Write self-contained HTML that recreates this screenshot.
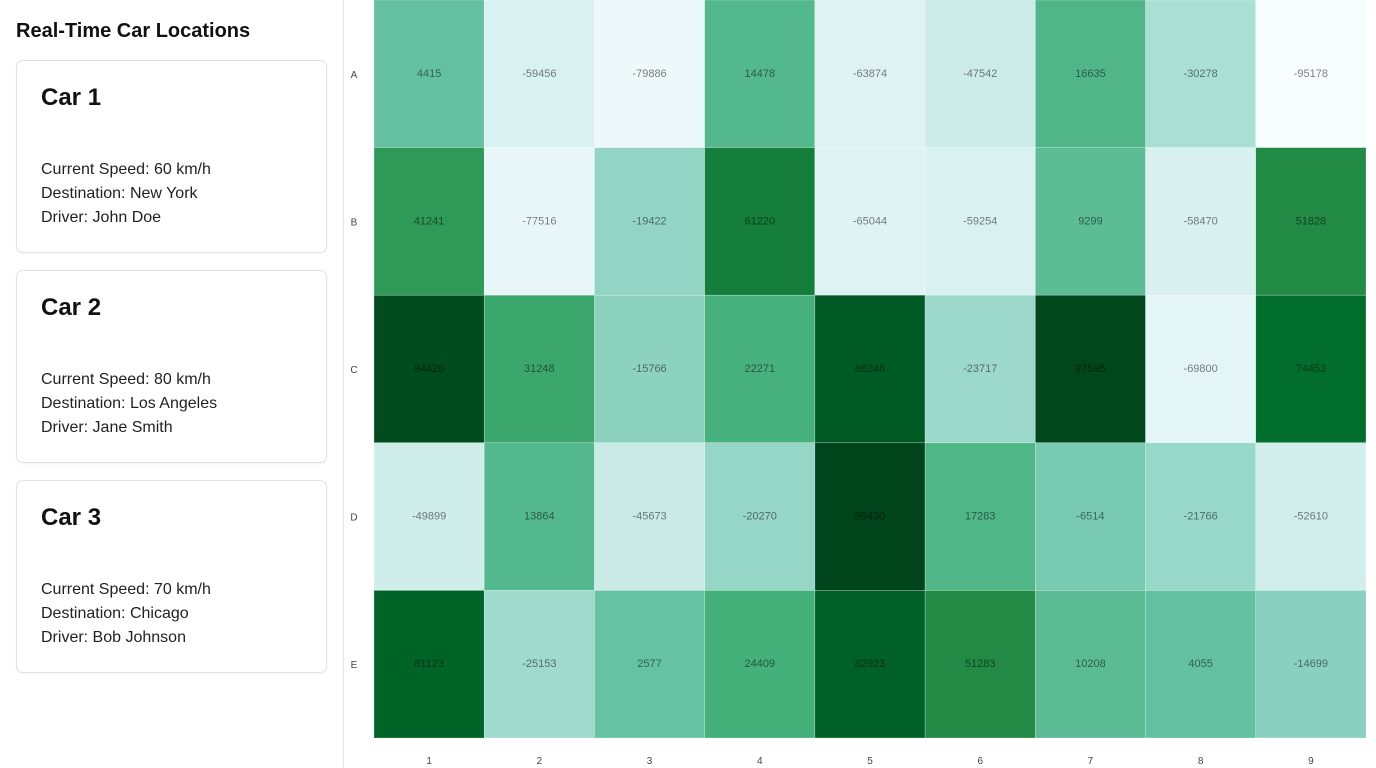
<!DOCTYPE html>
<html><head><meta charset="utf-8">
<style>
body{margin:0;width:1376px;height:768px;overflow:hidden;background:#fff;font-family:"Liberation Sans",sans-serif;color:#111}
#side{position:absolute;left:0;top:0;width:343px;height:768px;border-right:1px solid #e5e5e5}
h1{position:absolute;left:16px;top:20px;margin:0;font-size:20px;font-weight:bold;color:#111}
.card{position:absolute;left:16px;width:309px;height:191px;border:1px solid #e2e2e2;border-radius:7px;box-shadow:0 1px 2px rgba(0,0,0,0.05)}
.card h2{position:absolute;left:24px;top:23px;margin:0;font-size:24px;font-weight:bold}
.card .info{position:absolute;left:24px;top:97px;font-size:16px;line-height:24px;color:#222}
svg{position:absolute;left:0;top:0}
</style></head><body>
<div id="side">
<h1>Real-Time Car Locations</h1>
<div class="card" style="top:60px"><h2>Car 1</h2><div class="info">Current Speed: 60 km/h<br>Destination: New York<br>Driver: John Doe</div></div>
<div class="card" style="top:270px"><h2>Car 2</h2><div class="info">Current Speed: 80 km/h<br>Destination: Los Angeles<br>Driver: Jane Smith</div></div>
<div class="card" style="top:480px"><h2>Car 3</h2><div class="info">Current Speed: 70 km/h<br>Destination: Chicago<br>Driver: Bob Johnson</div></div>
</div>
<svg id="chart" width="1376" height="768"></svg>
<script>
const rows=["A","B","C","D","E"];
const cols=["1","2","3","4","5","6","7","8","9"];
const rowA=[4415,-59456,-79886,14478,-63874,-47542,16635,-30278,-95178];
const rowB=[41241,-77516,-19422,61220,-65044,-59254,9299,-58470,51828];
const rowC=[94426,31248,-15766,22271,86246,-23717,97595,-69800,74453];
const rowD=[-49899,13864,-45673,-20270,99430,17283,-6514,-21766,-52610];
const rowE=[81123,-25153,2577,24409,82923,51283,10208,4055,-14699];
const values=[rowA,rowB,rowC,rowD,rowE];
const NS="http://www.w3.org/2000/svg";
const svg=document.getElementById('chart');
const x0=374,x1=1366,y0=0,y1=738;
const cw=(x1-x0)/cols.length,rh=(y1-y0)/rows.length;
const xPos=i=>x0+i*cw, yPos=j=>y0+j*rh;
const all=values.flat();const vmin=Math.min(...all),vmax=Math.max(...all);
const scheme=["#f7fcfd","#e5f5f9","#ccece6","#99d8c9","#66c2a4","#41ae76","#238b45","#006d2c","#00441b"];
function hex(h){return [1,3,5].map(k=>parseInt(h.substr(k,2),16));}
function color(v){let t=(v-vmin)/(vmax-vmin)*(scheme.length-1);let i=Math.min(Math.floor(t),scheme.length-2);let f=t-i;
 const a=hex(scheme[i]),b=hex(scheme[i+1]);return `rgb(${a.map((c,k)=>Math.round(c+(b[k]-c)*f)).join(',')})`;}
values.forEach((row,j)=>{row.forEach((v,i)=>{
 const r=document.createElementNS(NS,'rect');
 r.setAttribute('x',xPos(i));r.setAttribute('y',yPos(j));r.setAttribute('width',cw);r.setAttribute('height',rh);
 r.setAttribute('fill',color(v));r.setAttribute('stroke','rgba(255,255,255,0.5)');r.setAttribute('stroke-width','0.5');
 
 
 svg.appendChild(r);
 const t=document.createElementNS(NS,'text');
 t.setAttribute('x',xPos(i)+cw/2);t.setAttribute('y',yPos(j)+rh/2+3);t.setAttribute('text-anchor','middle');
 t.setAttribute('font-size','11');t.setAttribute('fill','rgba(0,0,0,0.5)');t.setAttribute('font-family','Liberation Sans, sans-serif');
 t.textContent=v;
 
 
 svg.appendChild(t);
});});
rows.forEach((r,j)=>{const t=document.createElementNS(NS,'text');
 t.setAttribute('x',354);t.setAttribute('y',yPos(j)+rh/2+4);t.setAttribute('text-anchor','middle');t.setAttribute('font-size','10');t.setAttribute('fill','#444');
 t.textContent=r;
 
 
 svg.appendChild(t);});
cols.forEach((c,i)=>{const t=document.createElementNS(NS,'text');
 t.setAttribute('x',xPos(i)+cw/2);t.setAttribute('y',764);t.setAttribute('text-anchor','middle');t.setAttribute('font-size','10');t.setAttribute('fill','#444');
 t.textContent=c;
 
 
 svg.appendChild(t);});
</script>
</body></html>
